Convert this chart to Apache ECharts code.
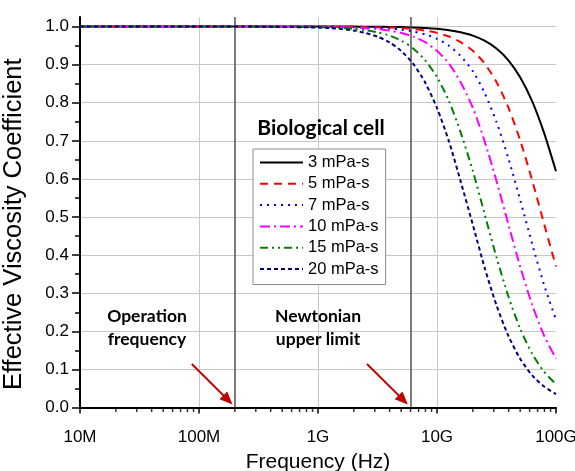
<!DOCTYPE html>
<html>
<head>
<meta charset="utf-8">
<script src="https://cdn.jsdelivr.net/npm/echarts@6/dist/echarts.min.js"></script>
<style>html,body{margin:0;padding:0;background:#fff;}#c{width:575px;height:471px;}</style>
</head>
<body>
<div id="c"></div>
<script>
// ---- data ----
const freqHz = [1e7, 1e8, 3.16e8, 1e9, 1.26e9, 1.58e9, 2e9, 2.51e9, 3.16e9, 3.98e9, 5.01e9, 6.31e9, 7.94e9, 1e10, 1.26e10, 1.58e10, 2e10, 2.51e10, 3.16e10, 3.98e10, 5.01e10, 6.31e10, 7.94e10, 1e11];
const seriesNames = ['3 mPa-s', '5 mPa-s', '7 mPa-s', '10 mPa-s', '15 mPa-s', '20 mPa-s'];
const visc3  = [1, 1, 1, 0.9999, 0.9999, 0.9998, 0.9998, 0.9996, 0.9994, 0.999, 0.9985, 0.9976, 0.9961, 0.9939, 0.9904, 0.9848, 0.9762, 0.9628, 0.9422, 0.9114, 0.8665, 0.8038, 0.721, 0.6199];
const visc5  = [1, 1, 1, 0.9998, 0.9997, 0.9996, 0.9993, 0.9989, 0.9983, 0.9973, 0.9957, 0.9933, 0.9894, 0.9833, 0.9737, 0.959, 0.9365, 0.903, 0.8545, 0.7875, 0.7004, 0.5959, 0.482, 0.37];
const visc7  = [1, 1, 1, 0.9997, 0.9995, 0.9992, 0.9987, 0.9979, 0.9967, 0.9947, 0.9917, 0.9869, 0.9794, 0.9677, 0.9497, 0.9226, 0.8827, 0.826, 0.7497, 0.654, 0.5439, 0.4294, 0.3219, 0.2305];
const visc10 = [1, 1, 0.9999, 0.9993, 0.9989, 0.9983, 0.9973, 0.9957, 0.9932, 0.9893, 0.9832, 0.9736, 0.9588, 0.9362, 0.9025, 0.8539, 0.7867, 0.6994, 0.5948, 0.4808, 0.3688, 0.2694, 0.1887, 0.128];
const visc15 = [1, 1, 0.9998, 0.9985, 0.9976, 0.9962, 0.9939, 0.9904, 0.9849, 0.9763, 0.9629, 0.9425, 0.9118, 0.8671, 0.8046, 0.722, 0.621, 0.5083, 0.3948, 0.2916, 0.2062, 0.1408, 0.0937, 0.0612];
const visc20 = [1, 1, 0.9997, 0.9973, 0.9957, 0.9932, 0.9893, 0.9831, 0.9735, 0.9586, 0.9359, 0.9021, 0.8533, 0.7859, 0.6984, 0.5937, 0.4797, 0.3677, 0.2685, 0.188, 0.1275, 0.0844, 0.055, 0.0354];
const xTickValues = [1e7, 1e8, 1e9, 1e10, 1e11];
const xTickLabels = ['10M', '100M', '1G', '10G', '100G'];
const xMinorTicks = [2e7,3e7,4e7,5e7,6e7,7e7,8e7,9e7, 2e8,3e8,4e8,5e8,6e8,7e8,8e8,9e8, 2e9,3e9,4e9,5e9,6e9,7e9,8e9,9e9, 2e10,3e10,4e10,5e10,6e10,7e10,8e10,9e10];
const yTickValues = [0, 0.1, 0.2, 0.3, 0.4, 0.5, 0.6, 0.7, 0.8, 0.9, 1.0];
const markerFreqs = [2e8, 6e9];   // operation frequency, Newtonian upper limit
const arrow1 = [[8.7e7, 0.114], [1.75e8, 0.02]];
const arrow2 = [[2.58e9, 0.114], [5.2e9, 0.02]];

const allVisc = [visc3, visc5, visc7, visc10, visc15, visc20];
const colors = ['#000000', '#ff0000', '#0000ff', '#ff00ff', '#008000', '#000080'];
const dashes = ['solid', [8, 6], [2, 5], [10, 4, 2, 4], [8, 4, 2, 4, 2, 4], [4, 3]];

const font = '"Liberation Sans", Arial, sans-serif';
const chart = echarts.init(document.getElementById('c'), null, {renderer: 'canvas'});

const series = seriesNames.map((name, i) => ({
  name: name,
  type: 'line',
  data: freqHz.map((f, j) => [f, allVisc[i][j]]),
  symbol: 'none',
  showSymbol: false,
  smooth: 0.25,
  lineStyle: {color: colors[i], width: 2, type: dashes[i]},
  itemStyle: {color: colors[i]},
  z: 3 + i
}));

series.push({
  type: 'line',
  data: [],
  silent: true,
  markLine: {
    silent: true,
    symbol: ['none', 'none'],
    label: {show: false},
    lineStyle: {color: '#505050', width: 1.5, type: 'solid'},
    data: markerFreqs.map(v => ({xAxis: v}))
  },
  z: 10
});
series.push({
  type: 'line',
  data: [],
  silent: true,
  markLine: {
    silent: true,
    symbol: ['none', 'triangle'],
    symbolSize: [11, 13],
    label: {show: false},
    lineStyle: {color: '#c00000', width: 2, type: 'solid'},
    itemStyle: {color: '#c00000'},
    data: [
      [{coord: arrow1[0]}, {coord: arrow1[1]}],
      [{coord: arrow2[0]}, {coord: arrow2[1]}]
    ]
  },
  z: 10
});
series.push({
  type: 'scatter',
  data: xMinorTicks.map(f => [f, 0]),
  symbol: 'rect',
  symbolSize: [1.5, 4],
  symbolOffset: [0, 2.5],
  clip: false,
  silent: true,
  itemStyle: {color: '#000'},
  z: 12
});

chart.setOption({
  animation: false,
  backgroundColor: '#fff',
  grid: {left: 80, right: 19, top: 17, bottom: 63.5, containLabel: false, outerBoundsMode: 'none'},
  legend: {
    data: seriesNames,
    orient: 'vertical',
    left: 253,
    top: 149,
    padding: [5, 7, 7, 6],
    itemWidth: 43,
    itemHeight: 14,
    itemGap: 4.3,
    borderColor: '#8c8c8c',
    borderWidth: 1,
    backgroundColor: '#fff',
    itemStyle: {opacity: 0},
    textStyle: {fontFamily: font, fontSize: 16.5, color: '#000'}
  },
  xAxis: {
    type: 'log',
    logBase: 10,
    min: 1e7,
    max: 1e11,
    name: 'Frequency (Hz)',
    nameLocation: 'middle',
    nameGap: 44,
    nameTextStyle: {fontFamily: font, fontSize: 21, color: '#000'},
    axisLine: {show: true, onZero: false, lineStyle: {color: '#000', width: 2}},
    axisTick: {show: true, inside: false, length: 6, lineStyle: {color: '#000', width: 1.5}},
    axisLabel: {
      margin: 21,
      fontFamily: font, fontSize: 17, color: '#000',
      formatter: v => { const k = xTickValues.findIndex(t => Math.abs(Math.log10(t) - Math.log10(v)) < 1e-6); return k >= 0 ? xTickLabels[k] : ''; }
    },
    splitLine: {show: true, lineStyle: {color: ['#c8c8c8', '#c8c8c8', '#c8c8c8', '#c8c8c8', 'rgba(0,0,0,0)'], width: 1}}
  },
  yAxis: {
    type: 'value',
    min: 0,
    max: 1.025,
    interval: 0.1,
    name: 'Effective Viscosity Coefficient',
    nameLocation: 'middle',
    nameGap: 53,
    nameTextStyle: {fontFamily: font, fontSize: 25.5, color: '#000', padding: [0, 24, 0, 0]},
    axisLine: {show: true, lineStyle: {color: '#000', width: 2}},
    axisTick: {show: true, length: 8, customValues: yTickValues, lineStyle: {color: '#000', width: 1.5}},
    minorTick: {show: true, splitNumber: 2, length: 5, lineStyle: {color: '#000', width: 1.5}},
    axisLabel: {
      margin: 11, customValues: yTickValues,
      fontFamily: font, fontSize: 17, color: '#000',
      formatter: v => v.toFixed(1)
    },
    splitLine: {show: true, lineStyle: {color: '#c8c8c8', width: 1}}
  },
  graphic: [
    {type: 'text', x: 321, y: 128, style: {text: 'Biological cell', font: 'bold 21px Lato, "Open Sans", sans-serif', fill: '#000', align: 'center', verticalAlign: 'middle'}, z: 20},
    {type: 'text', x: 147, y: 328, style: {text: 'Operation\nfrequency', font: 'bold 17.5px Lato, "Open Sans", sans-serif', lineHeight: 23, fill: '#000', align: 'center', verticalAlign: 'middle'}, z: 20},
    {type: 'text', x: 318, y: 328, style: {text: 'Newtonian\nupper limit', font: 'bold 17.5px Lato, "Open Sans", sans-serif', lineHeight: 23, fill: '#000', align: 'center', verticalAlign: 'middle'}, z: 20}
  ],
  series: series
});
</script>
</body>
</html>
